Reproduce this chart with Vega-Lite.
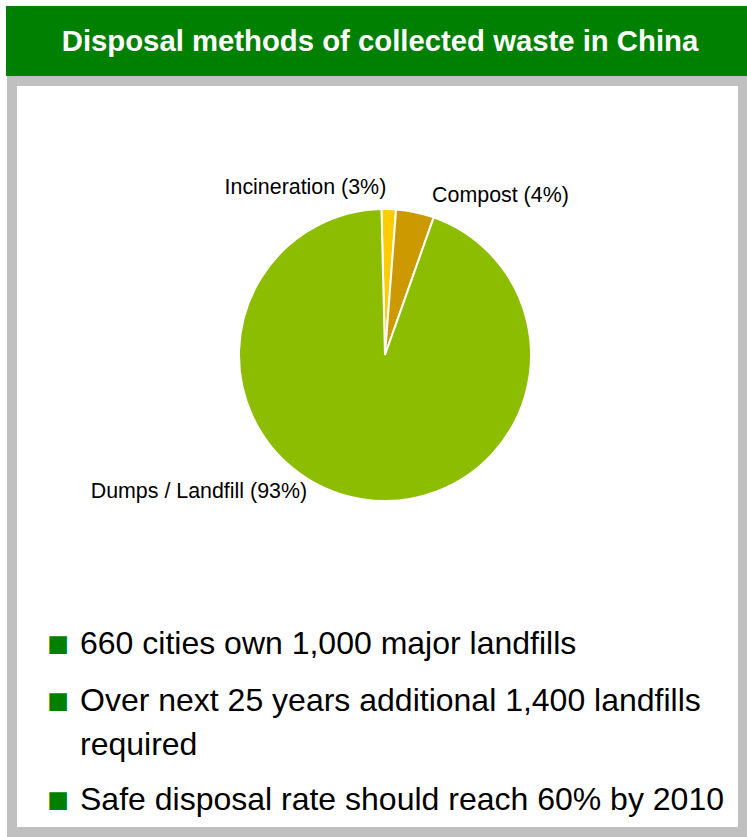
{
  "$schema": "https://vega.github.io/schema/vega-lite/v6.json",
  "background": "white",
  "padding": {"left": 6, "top": 6, "right": 0, "bottom": 0},
  "spacing": 0,
  "config": {"view": {"stroke": null}},
  "datasets": {
    "heading": [{"title": "Disposal methods of collected waste in China"}],
    "disposal": [
      {"method": "Incineration", "share": 1.6, "label": "Incineration (3%)"},
      {"method": "Compost", "share": 4.2, "label": "Compost (4%)"},
      {"method": "Dumps / Landfill", "share": 94.2, "label": "Dumps / Landfill (93%)"}
    ],
    "points": [
      {"item": "1", "lines": "660 cities own 1,000 major landfills"},
      {"item": "2", "lines": "Over next 25 years additional 1,400 landfills\nrequired"},
      {"item": "3", "lines": "Safe disposal rate should reach 60% by 2010"}
    ]
  },
  "vconcat": [
    {
      "width": 729,
      "height": 58,
      "view": {"fill": "#008000", "stroke": "#008000", "strokeWidth": 12},
      "data": {"name": "heading"},
      "mark": {"type": "text", "font": "Liberation Sans", "fontWeight": "bold", "fontSize": 29.3, "color": "white", "align": "center", "baseline": "middle", "x": 368, "dy": 1},
      "encoding": {"text": {"field": "title", "type": "nominal"}}
    },
    {
      "width": 731,
      "height": 751,
      "view": {"fill": "white", "stroke": "#c0c0c0", "strokeWidth": 10},
      "layer": [
        {
          "data": {"name": "disposal"},
          "layer": [
            {
              "mark": {"type": "arc", "outerRadius": 146, "x": 373, "y": 274, "stroke": "white", "strokeWidth": 2},
              "encoding": {
                "theta": {"field": "share", "type": "quantitative", "stack": true, "scale": {"range": [-0.0244, 6.2588]}},
                "order": {"field": "share", "sort": "ascending"},
                "color": {"field": "method", "type": "nominal", "scale": {"domain": ["Incineration", "Compost", "Dumps / Landfill"], "range": ["#ffcc00", "#cc9900", "#8cbd00"]}, "legend": null}
              }
            },
            {
              "mark": {
                "type": "text", "x": 373, "y": 274, "radius": 165,
                "font": "Liberation Sans", "fontSize": 21.4, "color": "black", "baseline": "middle",
                "align": {"expr": "datum.method === 'Compost' ? 'left' : 'right'"},
                "dx": {"expr": "datum.method === 'Compost' ? 13 : datum.method === 'Incineration' ? -3 : -52"},
                "dy": {"expr": "datum.method === 'Compost' ? 2.5 : datum.method === 'Incineration' ? -2 : -26"}
              },
              "encoding": {
                "theta": {"field": "share", "type": "quantitative", "stack": true},
                "order": {"field": "share", "sort": "ascending"},
                "detail": {"field": "method", "type": "nominal"},
                "text": {"field": "label", "type": "nominal"}
              }
            }
          ]
        },
        {
          "data": {"name": "points"},
          "encoding": {
            "y": {"field": "item", "type": "ordinal", "sort": null, "scale": {"type": "point", "range": [563, 719], "padding": 0}, "axis": null}
          },
          "layer": [
            {
              "mark": {
                "type": "text", "x": 46, "font": "DejaVu Sans", "fontSize": 23, "color": "#008000",
                "align": "center", "baseline": "middle",
                "dy": {"expr": "indexof(datum.lines, '\\n') >= 0 ? -21 : 0"},
                "text": "■"
              }
            },
            {
              "mark": {
                "type": "text", "x": 68, "font": "Liberation Sans", "fontSize": 32, "color": "black",
                "align": "left", "baseline": "middle", "lineHeight": 44, "lineBreak": "\n",
                "dy": {"expr": "indexof(datum.lines, '\\n') >= 0 ? -21 : 0"}
              },
              "encoding": {"text": {"field": "lines", "type": "nominal"}}
            }
          ]
        }
      ]
    }
  ]
}
